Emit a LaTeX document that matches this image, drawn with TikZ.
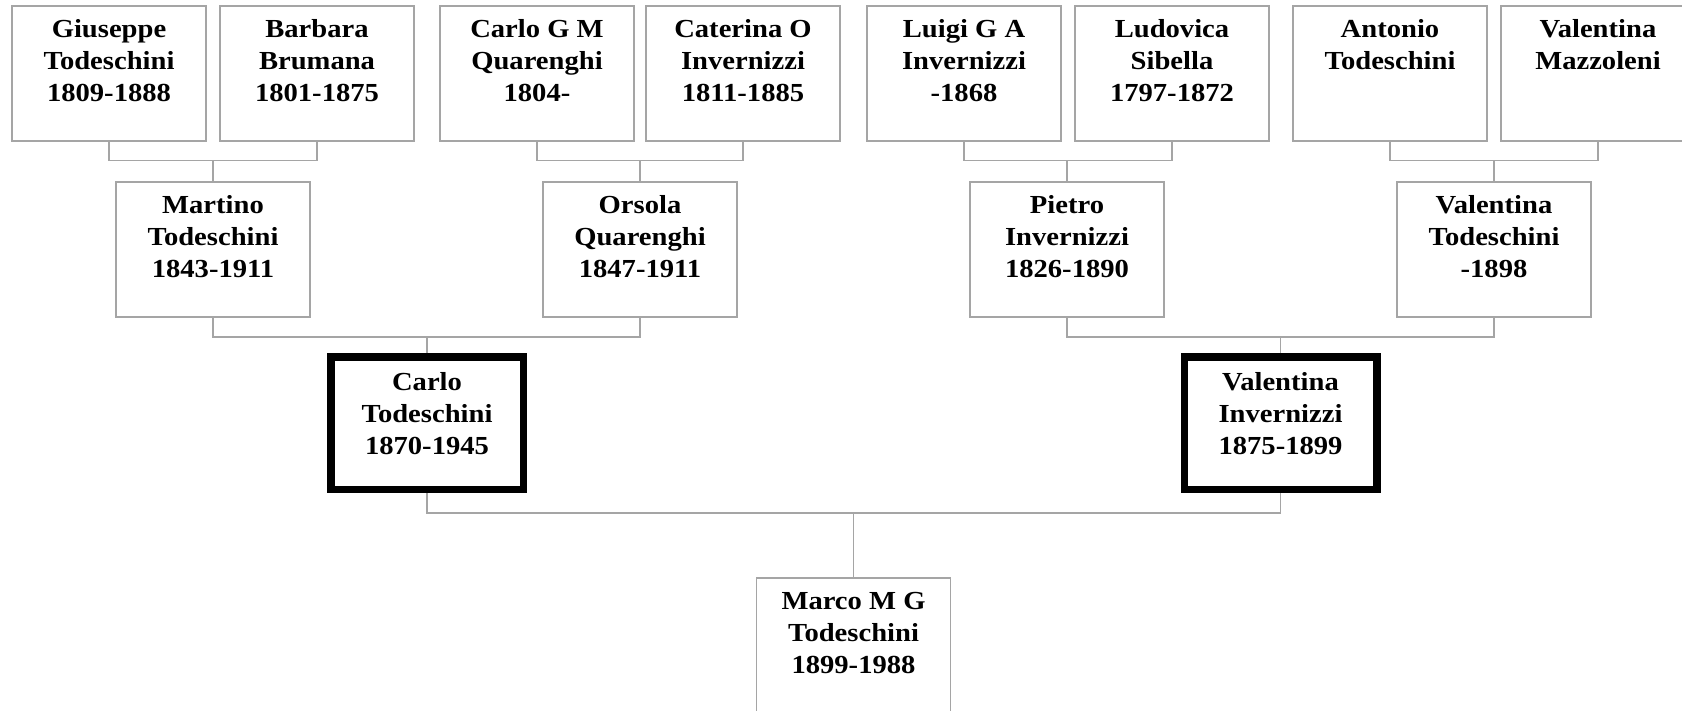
\documentclass[tikz,border=0pt]{standalone}
\usepackage{fontspec}
\setmainfont{Liberation Serif}[FakeStretch=1.1]
\usepackage{xcolor}
\usepackage{tikz}
\definecolor{boxgray}{RGB}{165,165,165}
\newcommand{\pers}[1]{\parbox[c][135pt][t]{194pt}{\centering\rule{0pt}{32pt}#1}}
\newcommand{\persb}[1]{\parbox[c][132.5pt][t]{192.5pt}{\centering\rule{0pt}{33.5pt}#1}}

\begin{document}
\begin{tikzpicture}[x=1pt, y=-1pt,
    person/.style={draw=boxgray, line width=1.5pt, inner sep=0pt, anchor=north, font=\fontsize{26}{32}\selectfont\bfseries},
    focus/.style={draw=black, line width=7.5pt, inner sep=0pt, anchor=north, font=\fontsize{26}{32}\selectfont\bfseries},
    link/.style={draw=boxgray, line width=1.5pt}]
    \useasboundingbox (0,0) rectangle (1682,710);
    \clip (0,0) rectangle (1682,710);

    % great-grandparents
    \node[person] (giuseppe) at (109,5) {\pers{Giuseppe\\Todeschini\\1809-1888}};
    \node[person] (barbara) at (317,5) {\pers{Barbara\\Brumana\\1801-1875}};
    \node[person] (carlogm) at (537,5) {\pers{Carlo G M\\Quarenghi\\1804-}};
    \node[person] (caterina) at (743,5) {\pers{Caterina O\\Invernizzi\\1811-1885}};
    \node[person] (luigi) at (964,5) {\pers{Luigi G A\\Invernizzi\\-1868}};
    \node[person] (ludovica) at (1172,5) {\pers{Ludovica\\Sibella\\1797-1872}};
    \node[person] (antonio) at (1390,5) {\pers{Antonio\\Todeschini}};
    \node[person] (valmaz) at (1598,5) {\pers{Valentina\\Mazzoleni}};

    % grandparents
    \node[person] (martino) at (213,181) {\pers{Martino\\Todeschini\\1843-1911}};
    \node[person] (orsola) at (640,181) {\pers{Orsola\\Quarenghi\\1847-1911}};
    \node[person] (pietro) at (1067,181) {\pers{Pietro\\Invernizzi\\1826-1890}};
    \node[person] (valtod) at (1494,181) {\pers{Valentina\\Todeschini\\-1898}};

    % parents
    \node[focus] (carlo) at (427,353) {\persb{Carlo\\Todeschini\\1870-1945}};
    \node[focus] (valinv) at (1280.5,353) {\persb{Valentina\\Invernizzi\\1875-1899}};

    % child
    \node[person] (marco) at (853.5,577) {\pers{Marco M G\\Todeschini\\1899-1988}};

    \draw[link] (giuseppe.south) -- ++(0,19) -| (barbara.south);
    \draw[link] (martino.north) -- ++(0,-20);
    \draw[link] (carlogm.south) -- ++(0,19) -| (caterina.south);
    \draw[link] (orsola.north) -- ++(0,-20);
    \draw[link] (luigi.south) -- ++(0,19) -| (ludovica.south);
    \draw[link] (pietro.north) -- ++(0,-20);
    \draw[link] (antonio.south) -- ++(0,19) -| (valmaz.south);
    \draw[link] (valtod.north) -- ++(0,-20);

    \draw[link] (martino.south) -- ++(0,19.5) -| (orsola.south);
    \draw[link] (carlo.north) -- ++(0,-16);
    \draw[link] (pietro.south) -- ++(0,19.5) -| (valtod.south);
    \draw[link] (valinv.north) -- ++(0,-16);

    \draw[link] (carlo.south) -- ++(0,20) -| (valinv.south);
    \draw[link] (marco.north) -- ++(0,-64);
\end{tikzpicture}
\end{document}
